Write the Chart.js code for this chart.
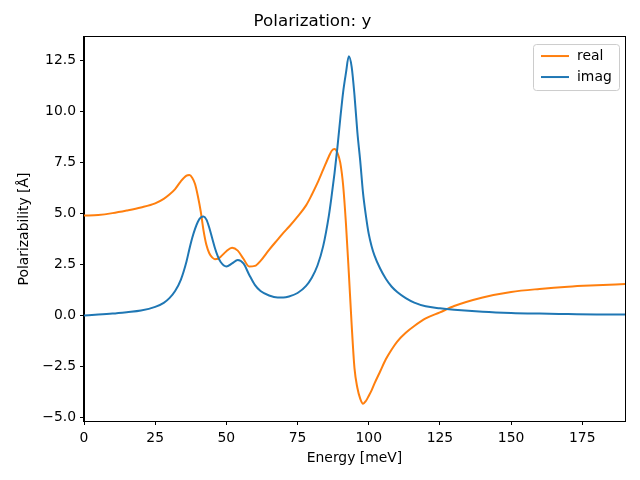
<!DOCTYPE html>
<html>
<head>
<meta charset="utf-8">
<script src="https://cdn.jsdelivr.net/npm/chart.js@4/dist/chart.umd.min.js"></script>
<style>
  html, body { margin: 0; padding: 0; background: #fff; }
  #wrap { width: 640px; height: 480px; }
</style>
</head>
<body>
<div id="wrap"><canvas id="myChart" width="640" height="480"></canvas></div>
<script>
// energies in meV
var energy = [0, 5, 10, 15, 20, 25, 28, 30, 32, 34, 36, 37, 38, 39, 40, 41, 42, 43, 44, 45, 46, 47, 48, 50, 52, 54, 56, 58, 60, 62, 65, 68, 70, 72, 75, 78, 80, 82, 84, 86, 87, 88, 89, 90, 91, 92, 93, 94, 95, 96, 97, 98, 99, 100, 101, 102, 104, 106, 108, 110, 113, 116, 120, 125, 130, 140, 150, 160, 170, 180, 190]

var realPart = [4.90, 4.93, 5.02, 5.15, 5.30, 5.50, 5.72, 5.93, 6.20, 6.58, 6.86, 6.89, 6.76, 6.45, 5.85, 5.10, 4.15, 3.45, 3.05, 2.85, 2.76, 2.78, 2.88, 3.15, 3.32, 3.18, 2.78, 2.40, 2.43, 2.68, 3.22, 3.72, 4.05, 4.35, 4.85, 5.40, 5.92, 6.50, 7.15, 7.80, 8.08, 8.17, 7.98, 7.50, 6.40, 4.50, 2.10, -0.45, -2.60, -3.55, -4.08, -4.33, -4.20, -3.95, -3.68, -3.35, -2.75, -2.15, -1.68, -1.28, -0.85, -0.52, -0.15, 0.15, 0.46, 0.88, 1.15, 1.30, 1.41, 1.48, 1.54]

var imagPart = [0.00, 0.04, 0.09, 0.16, 0.24, 0.42, 0.62, 0.85, 1.20, 1.75, 2.65, 3.25, 3.80, 4.25, 4.60, 4.80, 4.85, 4.70, 4.30, 3.80, 3.30, 2.90, 2.62, 2.40, 2.55, 2.72, 2.55, 2.00, 1.50, 1.20, 0.98, 0.88, 0.88, 0.93, 1.10, 1.45, 1.85, 2.45, 3.40, 4.90, 5.90, 7.00, 8.25, 9.65, 10.95, 11.90, 12.72, 12.20, 10.80, 9.00, 7.60, 6.00, 4.90, 4.00, 3.40, 2.95, 2.30, 1.80, 1.42, 1.15, 0.85, 0.63, 0.45, 0.35, 0.28, 0.18, 0.12, 0.09, 0.07, 0.05, 0.04]

var xTicks = [0, 25, 50, 75, 100, 125, 150, 175]
var yTicks = [-5.0, -2.5, 0.0, 2.5, 5.0, 7.5, 10.0, 12.5]

function toPoints(xs, ys) {
    var pts = []
    for (var i = 0; i < xs.length; i++) pts.push({x: xs[i], y: ys[i]})
    return pts
}

var FONT = "'DejaVu Sans', sans-serif"

// black frame round the plot + legend box inside it
var framePlugin = {
    id: 'frame',
    afterDraw: function (chart) {
        var ctx = chart.ctx
        var a = chart.chartArea
        ctx.save()
        ctx.strokeStyle = '#000'
        ctx.lineWidth = 1
        ctx.strokeRect(Math.round(a.left) - 0.5, Math.round(a.top) - 0.5,
            Math.round(a.right - a.left) + 1, Math.round(a.bottom - a.top) + 1)

        // legend
        var ds = chart.data.datasets
        var bx = a.right - 92, by = a.top + 7, bw = 86, bh = 46
        ctx.fillStyle = 'rgba(255,255,255,0.8)'
        ctx.strokeStyle = '#cccccc'
        ctx.beginPath()
        ctx.roundRect(bx + 0.5, by + 0.5, bw, bh, 3)
        ctx.fill()
        ctx.stroke()
        ctx.font = '13.9px ' + FONT
        ctx.textBaseline = 'middle'
        for (var i = 0; i < ds.length; i++) {
            var ly = by + 12 + i * 21
            ctx.strokeStyle = ds[i].borderColor
            ctx.lineWidth = 2
            ctx.beginPath()
            ctx.moveTo(bx + 8, ly)
            ctx.lineTo(bx + 36, ly)
            ctx.stroke()
            ctx.fillStyle = '#000'
            ctx.fillText(ds[i].label, bx + 44, ly)
        }
        ctx.restore()
    }
}

var myChart = document.getElementById('myChart').getContext('2d')

var chart = new Chart(myChart, {
    type: 'line',
    data: {
        datasets: [
            {
                label: 'real',
                data: toPoints(energy, realPart),
                borderColor: '#ff7f0e',
                borderWidth: 2,
                pointRadius: 0,
                cubicInterpolationMode: 'monotone',
                fill: false,
                order: 1
            },
            {
                label: 'imag',
                data: toPoints(energy, imagPart),
                borderColor: '#1f77b4',
                borderWidth: 2,
                pointRadius: 0,
                cubicInterpolationMode: 'monotone',
                fill: false,
                order: 0
            }
        ]
    },
    options: {
        responsive: false,
        animation: false,
        layout: { padding: { left: 0, right: 15, top: 0, bottom: 0 } },
        plugins: {
            legend: { display: false },
            tooltip: { enabled: false },
            title: {
                display: true,
                text: 'Polarization: y',
                color: '#000',
                font: { family: FONT, size: 16.7, weight: 'normal' },
                padding: { top: 12, bottom: 5 }
            }
        },
        scales: {
            x: {
                type: 'linear',
                min: 0,
                max: 190,
                afterFit: function (s) { s.height = 59 },
                afterBuildTicks: function (s) { s.ticks = xTicks.map(function (v) { return {value: v} }) },
                grid: { drawOnChartArea: false, drawTicks: true, tickLength: 4, color: '#000' },
                border: { display: true, color: '#000' },
                ticks: {
                    color: '#000',
                    padding: 5,
                    maxRotation: 0,
                    font: { family: FONT, size: 13.9 },
                    callback: function (v) { return String(v) }
                },
                title: {
                    display: true,
                    text: 'Energy [meV]',
                    color: '#000',
                    font: { family: FONT, size: 13.9 },
                    padding: { top: 0, bottom: 13 }
                }
            },
            y: {
                type: 'linear',
                min: -5.18,
                max: 13.66,
                afterFit: function (s) { s.width = 84 },
                afterBuildTicks: function (s) { s.ticks = yTicks.map(function (v) { return {value: v} }) },
                grid: { drawOnChartArea: false, drawTicks: true, tickLength: 4, color: '#000' },
                border: { display: true, color: '#000' },
                ticks: {
                    color: '#000',
                    padding: 4,
                    font: { family: FONT, size: 13.9 },
                    callback: function (v) { return v.toFixed(1).replace('-', '\u2212') }
                },
                title: {
                    display: true,
                    text: 'Polarizability [Å]',
                    color: '#000',
                    font: { family: FONT, size: 13.9 },
                    padding: { top: 16, bottom: 0 }
                }
            }
        }
    },
    plugins: [framePlugin]
})
</script>
</body>
</html>
